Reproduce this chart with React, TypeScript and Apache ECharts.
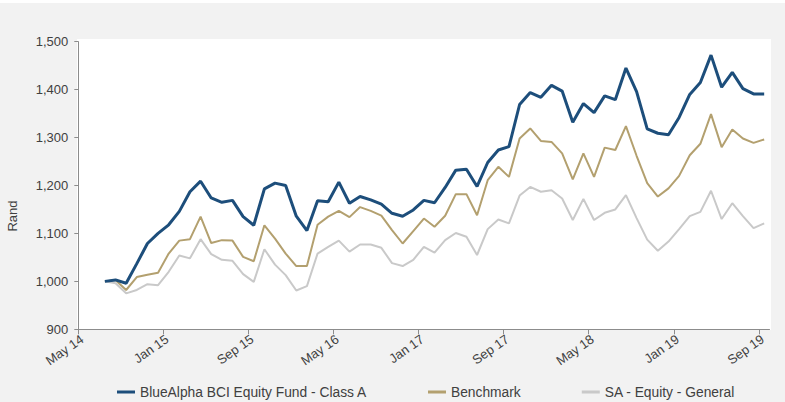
import React, { useEffect, useRef } from "react";
import * as echarts from "echarts";

// x-axis: months counted from May 2014
const xTickValues = [0, 8, 16, 24, 32, 40, 48, 56, 64];
const xTickLabels = ["May 14", "Jan 15", "Sep 15", "May 16", "Jan 17", "Sep 17", "May 18", "Jan 19", "Sep 19"];
const firstMonth = 2; // Jul 2014 (months after May 2014)

const yTicks = [900, 1000, 1100, 1200, 1300, 1400, 1500];

const seriesNames = ["BlueAlpha BCI Equity Fund - Class A", "Benchmark", "SA - Equity - General"];

const blueAlpha = [
  1000, 1003, 996, 1037, 1079, 1100, 1118, 1146, 1187, 1209,
  1174, 1165, 1169, 1135, 1117, 1193, 1205, 1200, 1136, 1106,
  1168, 1166, 1207, 1163, 1177, 1170, 1161, 1142, 1136, 1149,
  1169, 1164, 1196, 1232, 1234, 1198, 1248, 1274, 1281, 1369,
  1394, 1384, 1409, 1397, 1332, 1371, 1352, 1387, 1379, 1445,
  1396, 1318, 1309, 1306, 1342, 1390, 1415, 1472, 1405, 1436,
  1402, 1391, 1391,
];

const benchmark = [
  1000, 1003, 982, 1009, 1014, 1018, 1058, 1085, 1088, 1135,
  1080, 1086, 1085, 1051, 1042, 1117, 1089, 1058, 1032, 1032,
  1118, 1135, 1147, 1134, 1155, 1147, 1137, 1107, 1079, 1105,
  1131, 1114, 1137, 1182, 1182, 1138, 1211, 1239, 1218, 1298,
  1319, 1293, 1291, 1267, 1213, 1267, 1218, 1279, 1274, 1324,
  1262, 1205, 1177, 1194, 1220, 1263, 1287, 1349, 1280, 1317,
  1298, 1289, 1296,
];

const saEquity = [
  1000, 996, 975, 982, 994, 992, 1020, 1054, 1048, 1088,
  1057, 1045, 1043, 1015, 999, 1067, 1035, 1013, 981, 990,
  1058, 1072, 1085, 1062, 1077, 1077, 1070, 1038, 1032, 1045,
  1072, 1060, 1086, 1101, 1093, 1055, 1109, 1129, 1121, 1179,
  1197, 1187, 1190, 1173, 1128, 1172, 1128, 1143, 1150, 1180,
  1132, 1087, 1064, 1083, 1109, 1136, 1145, 1189, 1130, 1163,
  1136, 1111, 1121,
];

const colors = ["#1d4e7b", "#b3a06f", "#c9c9c9"];

function toPoints(values: number[]) {
  // monthly observations, placed mid-month
  return values.map((v, i) => [firstMonth + i + 0.5, v]);
}

export default function App() {
  const ref = useRef<HTMLDivElement>(null);
  useEffect(() => {
    if (!ref.current) return;
    const chart = echarts.init(ref.current, null, { renderer: "svg" });
    const font = "Liberation Sans, Arial, sans-serif";
    const textColor = "#404040";
    const axisColor = "#8c8c8c";
    chart.setOption({
      animation: false,
      backgroundColor: "#f2f2f2",
      textStyle: { fontFamily: font },
      graphic: [
        { type: "rect", z: -10, shape: { x: 0, y: 0, width: 785, height: 3 }, style: { fill: "#ffffff" } },
        { type: "rect", z: -10, shape: { x: 77, y: 39, width: 694, height: 291 }, style: { fill: "#ffffff" } },
        {
          type: "text",
          x: 12,
          y: 216,
          rotation: Math.PI / 2,
          style: {
            text: "Rand",
            fill: textColor,
            font: `13px ${font}`,
            align: "center",
            verticalAlign: "middle",
          },
        },
      ],
      grid: { left: 78.3, right: 15.5, top: 41.7, bottom: 72.7, containLabel: false },
      legend: {
        top: 385,
        left: 117,
        padding: 0,
        itemGap: 61,
        itemWidth: 18,
        itemHeight: 3,
        icon: "rect",
        textStyle: { fontSize: 13.8, color: textColor, fontFamily: font },
        data: seriesNames,
      },
      xAxis: {
        type: "value",
        min: 0,
        max: 65,
        interval: 8,
        splitLine: { show: false },
        axisLine: { show: true, lineStyle: { color: axisColor, width: 1 } },
        axisTick: { show: true, length: 5, customValues: xTickValues, lineStyle: { color: axisColor } },
        axisLabel: {
          customValues: xTickValues,
          rotate: 35,
          margin: 3,
          align: "right",
          verticalAlign: "top",
          color: textColor,
          fontSize: 13,
          fontFamily: font,
          formatter: (v: number) => {
            const idx = xTickValues.indexOf(v);
            return idx >= 0 ? xTickLabels[idx] : "";
          },
        },
      },
      yAxis: {
        type: "value",
        min: yTicks[0],
        max: yTicks[yTicks.length - 1],
        interval: 100,
        splitLine: { show: false },
        axisLine: { show: true, lineStyle: { color: axisColor, width: 1 } },
        axisTick: { show: true, length: 4, lineStyle: { color: axisColor } },
        axisLabel: {
          margin: 10,
          color: textColor,
          fontSize: 13,
          fontFamily: font,
          formatter: (v: number) => v.toLocaleString("en-US"),
        },
      },
      series: [
        {
          name: seriesNames[0],
          type: "line",
          data: toPoints(blueAlpha),
          showSymbol: false,
          z: 4,
          lineStyle: { color: colors[0], width: 3 },
          itemStyle: { color: colors[0] },
        },
        {
          name: seriesNames[1],
          type: "line",
          data: toPoints(benchmark),
          showSymbol: false,
          z: 3,
          lineStyle: { color: colors[1], width: 2 },
          itemStyle: { color: colors[1] },
        },
        {
          name: seriesNames[2],
          type: "line",
          data: toPoints(saEquity),
          showSymbol: false,
          z: 2,
          lineStyle: { color: colors[2], width: 2 },
          itemStyle: { color: colors[2] },
        },
      ],
    });
    return () => chart.dispose();
  }, []);
  return (
    <div
      ref={ref}
      style={{ position: "fixed", left: 0, top: 0, width: 785, height: 402 }}
    />
  );
}
